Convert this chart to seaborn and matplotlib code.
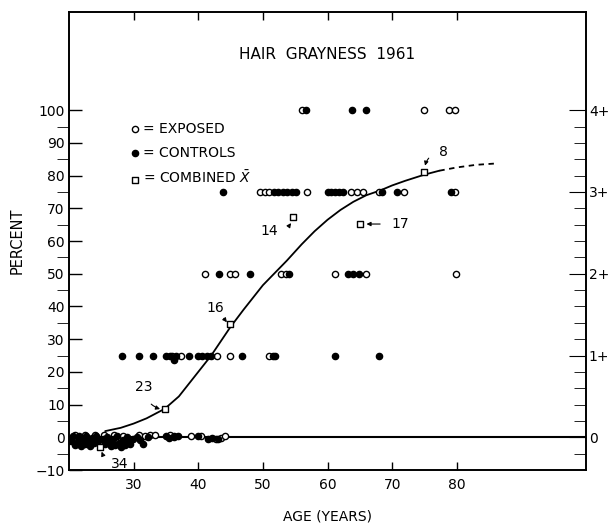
import numpy as np
import pandas as pd
import seaborn as sns
import matplotlib.pyplot as plt
from matplotlib.ticker import MultipleLocator

# Data
# exposed (open circles)
exposed_age = [21.0, 22.5, 24.0, 25.4, 26.9, 28.4, 30.8, 31.8, 32.5, 33.3, 35.7, 36.2, 38.9, 40.5, 42.8, 43.5, 44.2,
               36.0, 37.3, 42.9, 44.9, 51.0,
               41.0, 44.9, 45.7, 52.8, 53.5, 61.2, 66.0, 79.9,
               49.5, 50.3, 51.0, 56.8, 63.6, 64.5, 65.5, 68.0, 71.8, 79.8,
               56.1, 74.9, 78.8, 79.7]
exposed_pct = [0.8, 0.7, 0.6, 0.8, 0.7, 0.5, 0.6, 0.5, 0.7, 0.6, 0.7, 0.4, 0.5, 0.3, -0.6, -0.2, 0.5,
               25, 25, 25, 25, 25,
               50, 50, 50, 50, 50, 50, 50, 50,
               75, 75, 75, 75, 75, 75, 75, 75, 75, 75,
               100, 100, 100, 100]

# controls (filled circles)
controls_age = [20.3, 20.6, 20.9, 21.2, 21.5, 21.8, 22.1, 22.4, 22.7, 23.0, 23.3, 23.6, 23.9, 24.2, 24.5,
                25.2, 25.5, 25.9, 26.2, 26.5, 26.8, 27.1, 27.4, 27.7, 28.0, 28.3, 28.6, 28.9, 29.2, 29.5,
                29.9, 30.5, 31.0, 31.5, 32.3, 35.0, 35.5, 36.3, 36.8, 39.9, 41.5, 42.2, 43.0,
                28.2, 30.8, 33.0, 35.0, 35.6, 36.2, 36.6, 38.6, 40.0, 40.6, 41.4, 42.0, 46.8, 51.5, 51.9, 61.2, 68.0,
                43.2, 48.0, 54.1, 63.1, 64.0, 64.9,
                43.8, 51.7, 52.4, 53.1, 53.8, 54.5, 55.2, 60.0, 60.6, 61.2, 61.8, 62.4, 68.5, 70.8, 79.1,
                56.7, 63.8, 65.9]
controls_pct = [-1.0, 0.5, -2.5, -1.5, 0.3, -2.8, -0.8, -2.0, 0.5, -1.2, -2.6, -0.3, -1.8, 0.4, -1.0,
                -0.5, -2.0, 0.2, -1.4, -2.8, -0.6, -2.2, 0.3, -1.6, -3.0, -0.9, -2.4, 0.1, -1.3, -2.0,
                -0.4, 0.0, -0.8, -2.0, 0.2, 0.3, -0.3, 0.2, 0.5, 0.4, -0.4, -0.3, -0.5,
                25, 25, 25, 25, 25, 23.5, 25, 25, 25, 25, 25, 25, 25, 25, 25, 25, 25,
                50, 50, 50, 50, 50, 50,
                75, 75, 75, 75, 75, 75, 75, 75, 75, 75, 75, 75, 75, 75, 75,
                100, 100, 100]

# combined means (open squares) with group sizes
combined_age = [24.8, 34.8, 44.9, 54.7, 65.1, 75.0]
combined_pct = [-2.9, 8.7, 34.5, 67.2, 65.2, 81.2]
combined_n = ['34', '23', '16', '14', '17', '8']

# fitted curve
curve_age = [25.6, 28, 30, 32, 34.8, 37, 39, 41, 42, 44.9, 47, 50, 53.7, 56, 58, 60, 62, 64, 66, 68.2,
             70, 72, 75, 77.3]
curve_pct = [1.9, 2.9, 4.2, 5.8, 8.7, 12.5, 17.5, 22.5, 25, 33.5, 39, 46.5, 54, 59, 63, 66.5, 69.5, 72, 74, 75.5,
             77, 78.4, 80.3, 81.5]
dash_age = [77.3, 80, 83, 86]
dash_pct = [81.5, 82.5, 83.3, 83.7]

grade_ticks = [0, 25, 50, 75, 100]
grade_labels = ['0', '1+', '2+', '3+', '4+']

sns.set_style('ticks', {'axes.edgecolor': 'black', 'text.color': 'black',
                        'xtick.color': 'black', 'ytick.color': 'black', 'axes.labelcolor': 'black'})
plt.rcParams['font.family'] = ['DejaVu Sans']

fig = plt.figure(figsize=(6.09, 5.24), dpi=100)
ax = fig.add_axes([0.1133, 0.103, 0.849, 0.874])

ax.axhline(0, color='black', lw=1.5, zorder=1)

sns.lineplot(x=curve_age, y=curve_pct, ax=ax, color='black', lw=1.3, estimator=None, sort=False)
sns.lineplot(x=dash_age, y=dash_pct, ax=ax, color='black', lw=1.3, estimator=None, sort=False,
             linestyle=(0, (3, 2.5)))

sns.scatterplot(x=exposed_age, y=exposed_pct, ax=ax, marker='o', s=20, facecolor='white',
                edgecolor='black', linewidth=1.0, zorder=3, label='= EXPOSED')
sns.scatterplot(x=controls_age, y=controls_pct, ax=ax, marker='o', s=20, color='black',
                edgecolor='black', linewidth=1.0, zorder=3, label='= CONTROLS')
sns.scatterplot(x=combined_age, y=combined_pct, ax=ax, marker='s', s=24, facecolor='white',
                edgecolor='black', linewidth=1.0, zorder=4, label='= COMBINED $\\bar{X}$')

# group-size labels with arrows
text_pos = [(27.8, -8.2), (31.5, 15.3), (42.7, 39.5), (51.0, 63.0), (71.3, 65.2), (77.9, 87.3)]
arrow_to = [(24.9, -3.6), (34.5, 8.4), (44.7, 34.5), (54.6, 66.2), (65.6, 65.2), (75.0, 82.2)]
arc = [-0.35, 0.35, 0.0, 0.35, 0.0, 0.4]
for (tx, ty), n, (x, y), r in zip(text_pos, combined_n, arrow_to, arc):
    ax.annotate(n, xy=(x, y), xytext=(tx, ty), fontsize=10, ha='center', va='center',
                arrowprops=dict(arrowstyle='-|>', color='black', lw=0.8, mutation_scale=6,
                                shrinkA=6, shrinkB=2, connectionstyle=f'arc3,rad={r}'))

ax.text(60, 117, 'HAIR  GRAYNESS  1961', ha='center', va='center', fontsize=11)

ax.set_xlim(20, 100)
ax.set_ylim(-10, 130)
ax.set_xticks([30, 40, 50, 60, 70, 80])
ax.set_yticks(np.arange(-10, 101, 10))
ax.yaxis.set_minor_locator(MultipleLocator(5))
ax.set_yticks(np.arange(-5, 100, 10), minor=True)
ax.tick_params(axis='both', direction='in', labelsize=10, width=1.0)
ax.tick_params(axis='y', which='both', length=9, pad=3)
ax.tick_params(axis='x', top=True, length=6, pad=6)
ax.set_xlabel('AGE (YEARS)', fontsize=10, labelpad=12)
ax.set_ylabel('PERCENT', fontsize=10.5, labelpad=8)

ax2 = ax.twinx()
ax2.set_ylim(-10, 130)
ax2.set_yticks(grade_ticks, labels=grade_labels)
ax2.set_yticks(np.arange(-5, 101, 5), minor=True)
ax2.tick_params(axis='y', which='major', direction='in', length=12, labelsize=10, pad=2)
ax2.tick_params(axis='y', which='minor', direction='in', length=9)

for a in (ax, ax2):
    for sp in a.spines.values():
        sp.set_linewidth(1.2)
        sp.set_visible(True)

ax.legend(loc='upper left', bbox_to_anchor=(0.1, 0.775), frameon=False, fontsize=10,
          handletextpad=0.1, labelspacing=0.7, borderpad=0, handlelength=1.0, markerscale=1.0)

fig.savefig('out.png', dpi=100)
